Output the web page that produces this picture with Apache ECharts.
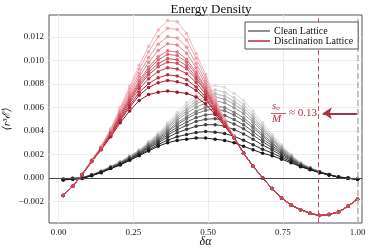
<!DOCTYPE html>
<html><head><meta charset="utf-8">
<script src="https://cdn.jsdelivr.net/npm/echarts@6/dist/echarts.min.js"></script>
<style>html,body{margin:0;padding:0;background:#fff}#c{width:374px;height:249px}</style>
</head><body><div id="c"></div>
<script>
const xValues = [0.0156,0.0474,0.0791,0.1109,0.1426,0.1744,0.2061,0.2379,0.2697,0.3014,0.3332,0.3649,0.3967,0.4284,0.4602,0.4919,0.5237,0.5555,0.5872,0.619,0.6507,0.6825,0.7142,0.746,0.7777,0.8095,0.8413,0.873,0.9048,0.9365,0.9683,1.0];

// Clean lattice curves, darkest (index 0) to lightest
const cleanCurves = [
[-0.00017,-0.0001,-0.00005,0.0002,0.00045,0.0008,0.0011,0.0015,0.0019,0.0023,0.0027,0.0030,0.0032,0.0033,0.0034,0.0034,0.0033,0.0032,0.0030,0.0027,0.0024,0.0021,0.0019,0.0016,0.0013,0.00096,0.0007,0.00045,0.00026,0.00006,-0.00003,-0.0001],
[-0.00015,-0.00009,-0.00004,0.00021,0.00047,0.00083,0.00114,0.00155,0.00197,0.0024,0.00284,0.00322,0.00351,0.0037,0.00388,0.00395,0.0039,0.00379,0.00355,0.00321,0.00283,0.00244,0.00213,0.00176,0.00139,0.001,0.00073,0.00046,0.00027,0.00007,-0.00003,-0.0001],
[-0.00014,-0.00007,-0.00002,0.00023,0.00049,0.00085,0.00118,0.00161,0.00204,0.00252,0.003,0.00346,0.00385,0.00414,0.0044,0.00453,0.00454,0.00442,0.00413,0.00375,0.00329,0.0028,0.00239,0.00192,0.00149,0.00105,0.00075,0.00048,0.00027,0.00007,-0.00002,-0.0001],
[-0.00012,-0.00006,-0.00001,0.00024,0.00051,0.00088,0.00121,0.00165,0.00209,0.0026,0.00312,0.00365,0.00411,0.00448,0.00481,0.005,0.00505,0.00491,0.0046,0.00418,0.00365,0.00309,0.00258,0.00206,0.00157,0.00109,0.00078,0.00049,0.00028,0.00008,-0.00002,-0.0001],
[-0.00011,-0.00005,0,0.00025,0.00052,0.00089,0.00124,0.00169,0.00214,0.00268,0.00322,0.0038,0.00433,0.00476,0.00514,0.00537,0.00546,0.00532,0.00497,0.00453,0.00395,0.00332,0.00275,0.00216,0.00163,0.00112,0.00079,0.0005,0.00028,0.00008,-0.00002,-0.0001],
[-0.0001,-0.00004,0.00001,0.00026,0.00053,0.00091,0.00127,0.00172,0.00218,0.00275,0.00332,0.00395,0.00454,0.00504,0.00547,0.00575,0.00588,0.00572,0.00535,0.00488,0.00425,0.00356,0.00291,0.00227,0.00169,0.00115,0.00081,0.00051,0.00028,0.00008,-0.00001,-0.0001],
[-0.0001,-0.00004,0.00001,0.00026,0.00054,0.00092,0.00129,0.00175,0.00221,0.0028,0.00338,0.00405,0.00469,0.00522,0.00569,0.006,0.00615,0.00599,0.0056,0.00512,0.00445,0.00371,0.00302,0.00234,0.00173,0.00117,0.00082,0.00051,0.00029,0.00009,-0.00001,-0.0001],
[-0.00009,-0.00003,0.00002,0.00027,0.00056,0.00094,0.00131,0.00178,0.00226,0.00287,0.00348,0.00421,0.0049,0.0055,0.00603,0.00638,0.00657,0.0064,0.00598,0.00547,0.00474,0.00395,0.00318,0.00245,0.0018,0.0012,0.00084,0.00052,0.00029,0.00009,-0.00001,-0.0001],
[-0.00008,-0.00002,0.00003,0.00028,0.00057,0.00096,0.00133,0.00181,0.00229,0.00292,0.00356,0.00433,0.00507,0.00572,0.00629,0.00668,0.00689,0.00671,0.00628,0.00574,0.00497,0.00413,0.0033,0.00254,0.00185,0.00123,0.00086,0.00053,0.00029,0.00009,-0.00001,-0.0001],
[-0.00007,-0.00002,0.00003,0.00028,0.00058,0.00097,0.00135,0.00184,0.00232,0.00297,0.00362,0.00443,0.00522,0.0059,0.00651,0.00693,0.00716,0.00698,0.00653,0.00598,0.00517,0.00428,0.00341,0.00261,0.00189,0.00125,0.00087,0.00053,0.00029,0.00009,-0.00001,-0.0001],
[-0.00006,-0.00001,0.00004,0.00029,0.00059,0.00098,0.00137,0.00186,0.00236,0.00303,0.0037,0.00455,0.00538,0.00612,0.00677,0.00722,0.00749,0.0073,0.00682,0.00625,0.0054,0.00447,0.00354,0.00269,0.00194,0.00127,0.00088,0.00054,0.0003,0.0001,0,-0.0001],
[-0.00005,0,0.00005,0.0003,0.0006,0.001,0.0014,0.0019,0.0024,0.0031,0.0038,0.0047,0.0056,0.0064,0.0071,0.0076,0.0079,0.0077,0.0072,0.0066,0.0057,0.0047,0.0037,0.0028,0.002,0.0013,0.0009,0.00055,0.0003,0.0001,0,-0.0001]
];

// Disclination lattice curves, darkest (index 0) to lightest
const disclinationCurves = [
[-0.0015,-0.0007,0.0003,0.0014,0.0024,0.0035,0.0047,0.0057,0.0066,0.0071,0.0073,0.0074,0.0073,0.0072,0.0069,0.0063,0.0054,0.0044,0.0034,0.0021,0.0010,0.0000,-0.0009,-0.0017,-0.0023,-0.0027,-0.0030,-0.0032,-0.0031,-0.0029,-0.0024,-0.0018],
[-0.0015,-0.0007,0.0003,0.0014,0.00245,0.0036,0.0049,0.0060,0.00705,0.0077,0.0081,0.0083,0.0082,0.00795,0.00745,0.0067,0.0056,0.0045,0.0034,0.0021,0.0010,0.0000,-0.0009,-0.0017,-0.0023,-0.0027,-0.0030,-0.0032,-0.0031,-0.0029,-0.0024,-0.0018],
[-0.0015,-0.0007,0.0003,0.0014,0.00247,0.00366,0.0050,0.00618,0.00729,0.00804,0.00852,0.00878,0.00868,0.00837,0.00775,0.00688,0.00572,0.00454,0.00342,0.0021,0.0010,0.0000,-0.0009,-0.0017,-0.0023,-0.0027,-0.0030,-0.0032,-0.0031,-0.0029,-0.0024,-0.0018],
[-0.0015,-0.0007,0.0003,0.0014,0.0025,0.00373,0.00513,0.00639,0.00759,0.00845,0.00905,0.00938,0.00928,0.00888,0.00812,0.00713,0.00586,0.0046,0.00343,0.0021,0.0010,0.0000,-0.0009,-0.0017,-0.0023,-0.0027,-0.0030,-0.0032,-0.0031,-0.0029,-0.0024,-0.0018],
[-0.0015,-0.0007,0.0003,0.0014,0.00252,0.00379,0.00523,0.00656,0.00783,0.00878,0.00947,0.00986,0.00976,0.00929,0.00842,0.00733,0.00597,0.00465,0.00344,0.0021,0.0010,0.0000,-0.0009,-0.0017,-0.0023,-0.0027,-0.0030,-0.0032,-0.0031,-0.0029,-0.0024,-0.0018],
[-0.0015,-0.0007,0.0003,0.0014,0.00254,0.00382,0.0053,0.00667,0.00798,0.00899,0.00974,0.01016,0.01006,0.00955,0.0086,0.00745,0.00604,0.00468,0.00345,0.0021,0.0010,0.0000,-0.0009,-0.0017,-0.0023,-0.0027,-0.0030,-0.0032,-0.0031,-0.0029,-0.0024,-0.0018],
[-0.0015,-0.0007,0.0003,0.0015,0.00256,0.00386,0.00538,0.00679,0.00816,0.00923,0.01006,0.01052,0.01042,0.00985,0.00882,0.0076,0.00613,0.00471,0.00345,0.0021,0.0010,0.0000,-0.0009,-0.0017,-0.0023,-0.0027,-0.0030,-0.0032,-0.0031,-0.0029,-0.0024,-0.0018],
[-0.0015,-0.0007,0.0003,0.0015,0.00257,0.0039,0.00544,0.0069,0.00831,0.00944,0.01032,0.01082,0.01072,0.01011,0.00901,0.00773,0.0062,0.00474,0.00346,0.0021,0.0010,0.0000,-0.0009,-0.0017,-0.0023,-0.0027,-0.0030,-0.0032,-0.0031,-0.0029,-0.0024,-0.0018],
[-0.0015,-0.0007,0.0003,0.0015,0.0026,0.00397,0.00557,0.00711,0.00861,0.00985,0.01085,0.01142,0.01132,0.01062,0.00938,0.00798,0.00634,0.0048,0.00347,0.0021,0.0010,0.0000,-0.0009,-0.0017,-0.0023,-0.0027,-0.0030,-0.0032,-0.0031,-0.0029,-0.0024,-0.0018],
[-0.0015,-0.0007,0.0003,0.0015,0.00263,0.00404,0.0057,0.00732,0.00891,0.01026,0.01138,0.01202,0.01192,0.01113,0.00975,0.00823,0.00648,0.00486,0.00348,0.0021,0.0010,0.0000,-0.0009,-0.0017,-0.0023,-0.0027,-0.0030,-0.0032,-0.0031,-0.0029,-0.0024,-0.0018],
[-0.0015,-0.0007,0.0003,0.0015,0.00267,0.00412,0.00586,0.00757,0.00927,0.01075,0.01202,0.01274,0.01264,0.01174,0.01019,0.00853,0.00665,0.00493,0.00349,0.0021,0.0010,0.0000,-0.0009,-0.0017,-0.0023,-0.0027,-0.0030,-0.0032,-0.0031,-0.0029,-0.0024,-0.0018],
[-0.0015,-0.0007,0.0003,0.0015,0.0027,0.0042,0.0060,0.0078,0.0096,0.0112,0.0126,0.0134,0.0133,0.0123,0.0106,0.0088,0.0068,0.0050,0.0035,0.0021,0.0010,0.0000,-0.0009,-0.0017,-0.0023,-0.0027,-0.0030,-0.0032,-0.0031,-0.0029,-0.0024,-0.0018]
];

const xTicks = [0, 0.25, 0.5, 0.75, 1.0];
const yTicks = [-0.002, 0, 0.002, 0.004, 0.006, 0.008, 0.010, 0.012];
const scaleLine = 0.872;      // s_o/M marker (1 - 0.13)
const edgeLine = 1.0;
const arrowY = 0.0055;
const seriesNames = ['Clean Lattice', 'Disclination Lattice'];

const greyPalette = ['#191919','#2b2b2b','#3c3c3c','#4e4e4e','#606060','#727272','#838383','#959595','#a7a7a7','#b8b8b8','#cacaca','#dcdcdc'];
const redPalette = ['#9e1426','#aa2232','#b5303f','#bf3f4d','#c84c5a','#cf5b68','#d66a76','#dc7985','#e28893','#e897a1','#eea6b0','#f4b6be'];
// drawing order for the red family (last is on top)
const redOrder = [11,10,9,8,7,6,5,0,1,2,3,4];

const FONT = 'Liberation Serif, DejaVu Serif, serif';
const chart = echarts.init(document.getElementById('c'), null, {renderer: 'canvas'});

function mk(name, ys, color, z) {
  return {
    type: 'line', name: name, z: z, animation: false, silent: true,
    data: xValues.map((x, i) => [x, ys[i]]),
    symbol: 'circle', symbolSize: 3.5, showSymbol: true,
    lineStyle: {width: 1, color: color}, itemStyle: {color: color},
    emphasis: {disabled: true}
  };
}

const series = [];
series.push({
  type: 'line', name: 'refs', data: [], z: 1, silent: true, animation: false,
  markLine: {
    silent: true, symbol: ['none', 'none'], label: {show: false}, animation: false,
    data: [
      {yAxis: 0, lineStyle: {color: '#4a4a4a', width: 1, type: 'solid'}},
      {xAxis: scaleLine, lineStyle: {color: '#c4505e', width: 1, type: [5, 3]}},
      {xAxis: edgeLine, lineStyle: {color: '#b4b4b4', width: 1.5, type: [6, 3]}}
    ]
  }
});
for (let i = cleanCurves.length - 1; i >= 0; i--) series.push(mk(seriesNames[0], cleanCurves[i], greyPalette[i], 2));
for (const i of redOrder) series.push(mk(seriesNames[1], disclinationCurves[i], redPalette[i], 3));
series.push({
  type: 'line', name: 'arrow', data: [], z: 5, silent: true, animation: false,
  markLine: {
    silent: true, animation: false, label: {show: false},
    symbol: ['none', 'arrow'], symbolSize: 9,
    lineStyle: {color: '#a8323f', width: 2, type: 'solid', opacity: 1},
    data: [[{coord: [edgeLine - 0.002, arrowY]}, {coord: [scaleLine + 0.012, arrowY]}]]
  }
});

chart.setOption({
  animation: false,
  backgroundColor: '#fff',
  title: {
    text: 'Energy Density', left: 206, top: -2, textAlign: 'center',
    textStyle: {fontFamily: FONT, fontSize: 13, fontWeight: 'normal', color: '#111'}
  },
  legend: {
    data: [
      {name: seriesNames[0], itemStyle: {color: '#6a6a6a'}},
      {name: seriesNames[1], itemStyle: {color: '#b02a3a'}}
    ],
    orient: 'vertical', left: 245, top: 22,
    icon: 'rect', itemWidth: 22, itemHeight: 1.5, itemGap: 0,
    padding: [4, 5, 3, 3],
    borderColor: '#555', borderWidth: 1, borderRadius: 0,
    backgroundColor: '#fff', z: 10,
    textStyle: {fontFamily: FONT, fontSize: 10, color: '#111', lineHeight: 10, padding: [0, 0, 0, -1]},
    selectedMode: false
  },
  grid: {left: 49, right: 12, top: 15, bottom: 26, show: true, borderColor: '#555', borderWidth: 1,
    backgroundColor: 'transparent', containLabel: false, outerBoundsMode: 'none'},
  xAxis: {
    type: 'value', min: -0.032, max: 1.015,
    name: 'δα', nameLocation: 'middle', nameGap: 13, nameMoveOverlap: false,
    nameTextStyle: {fontFamily: FONT, fontSize: 12, fontStyle: 'italic', color: '#111'},
    axisLine: {show: false},
    axisTick: {show: false, customValues: xTicks},
    axisLabel: {customValues: xTicks, fontFamily: FONT, fontSize: 9, color: '#222', margin: 5,
      formatter: v => v.toFixed(2)},
    splitLine: {show: true, lineStyle: {color: '#ececec', width: 1}}
  },
  yAxis: {
    type: 'value', min: -0.00383, max: 0.01387,
    name: '⟨r³ℰ⟩', nameLocation: 'middle', nameGap: 36, nameRotate: 90, nameMoveOverlap: false,
    nameTextStyle: {fontFamily: FONT, fontSize: 11, fontStyle: 'italic', color: '#111'},
    axisLine: {show: false},
    axisTick: {show: false, customValues: yTicks},
    axisLabel: {customValues: yTicks, fontFamily: FONT, fontSize: 9, color: '#222', margin: 5,
      formatter: v => (v < 0 ? '−' : '') + Math.abs(v).toFixed(3)},
    splitLine: {show: true, lineStyle: {color: '#ececec', width: 1}}
  },
  graphic: [
    {type: 'text', left: 272, top: 101, z: 20, style: {
      text: '{s|s}{o|o}', fill: '#b52d3d',
      rich: {s: {fontFamily: FONT, fontSize: 11, fontStyle: 'italic', fill: '#b52d3d'},
             o: {fontFamily: FONT, fontSize: 7, fontStyle: 'italic', fill: '#b52d3d', padding: [4, 0, 0, 0]}}
    }},
    {type: 'line', z: 20, shape: {x1: 271, y1: 113.5, x2: 286, y2: 113.5}, style: {stroke: '#b52d3d', lineWidth: 0.8}},
    {type: 'text', left: 272, top: 114, z: 20, style: {text: 'M', fontFamily: FONT, fontSize: 11, fontStyle: 'italic', fill: '#b52d3d'}},
    {type: 'text', left: 289, top: 108, z: 20, style: {text: '≈ 0.13', fontFamily: FONT, fontSize: 11, fill: '#b52d3d'}}
  ],
  series: series
});
</script>
</body></html>
